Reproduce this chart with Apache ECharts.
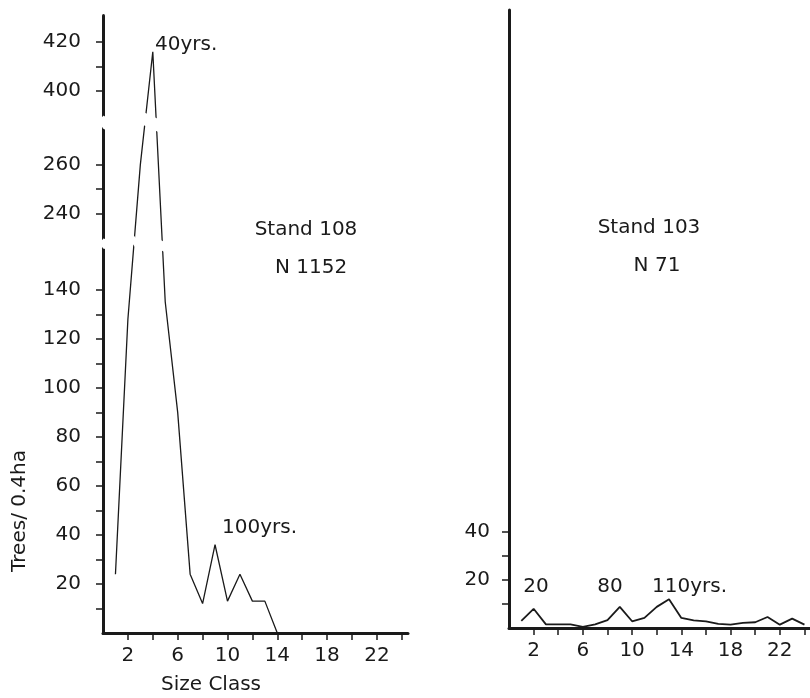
<!DOCTYPE html>
<html>
<head>
<meta charset="utf-8">
<script src="https://cdn.jsdelivr.net/npm/echarts@6/dist/echarts.min.js"></script>
<style>
  html, body { margin: 0; background: #fff; }
  #chart { width: 810px; height: 698px; }
</style>
</head>
<body>
<div id="chart"></div>
<script>
// stand 108 (left) and stand 103 (right), trees per 0.4 ha by size class
const sizeClass108 = [1, 2, 3, 4, 5, 6, 7, 8, 9, 10, 11, 12, 13, 14];
const trees108 = [24, 128, 260, 416, 135, 90, 24, 12, 36, 13, 24, 13, 13, 0];
const sizeClass103 = [1, 2, 3, 4, 5, 6, 7, 8, 9, 10, 11, 12, 13, 14, 15, 16, 17, 18, 19, 20, 21, 22, 23, 24];
const trees103 = [3, 8, 1.5, 1.5, 1.5, 0.5, 1.5, 3.3, 8.8, 2.8, 4.2, 8.8, 12, 4.2, 3.2, 2.8, 1.7, 1.4, 2.1, 2.4, 4.6, 1.4, 3.9, 1.4];

const xTicks = [2, 4, 6, 8, 10, 12, 14, 16, 18, 20, 22, 24];
const xLabels = [2, 6, 10, 14, 18, 22];
const yTicks108 = [10, 20, 30, 40, 50, 60, 70, 80, 90, 100, 110, 120, 130, 140, 240, 250, 260, 400, 410, 420];
const yLabels108 = [20, 40, 60, 80, 100, 120, 140, 240, 260, 400, 420];
const yTicks103 = [10, 20, 30, 40];
const yLabels103 = [20, 40];

const ink = "#1a1a1a";
const font = "'DejaVu Sans ExtraLight', 'DejaVu Sans', sans-serif";
const fs = 20;

const chart = echarts.init(document.getElementById("chart"), null, { renderer: "canvas" });

function xAxis(gridIndex, max) {
  return {
    gridIndex,
    type: "value",
    min: 0,
    max,
    axisLine: { lineStyle: { color: ink, width: 3 } },
    axisTick: { customValues: xTicks, length: 7, lineStyle: { color: ink, width: 1.5 } },
    axisLabel: { customValues: xLabels, color: ink, fontSize: fs, fontFamily: font, margin: 13 },
    splitLine: { show: false }
  };
}

function text(x, y, str, align) {
  return {
    type: "text",
    x,
    y,
    style: { text: str, fill: ink, fontSize: fs, fontFamily: font, align: align || "center", verticalAlign: "middle" }
  };
}

chart.setOption({
  backgroundColor: "#fff",
  animation: false,
  grid: [
    { left: 103, top: 15, width: 305, height: 618 },
    { left: 509, top: 10, width: 302, height: 618 }
  ],
  xAxis: [xAxis(0, 24.5), xAxis(1, 24.45)],
  yAxis: [
    {
      gridIndex: 0,
      type: "value",
      min: 0,
      max: 431,
      breaks: [
        { start: 157, end: 230, gap: "1.6%" },
        { start: 275, end: 390, gap: "2%" }
      ],
      breakArea: {
        show: true,
        itemStyle: { color: "#fff", borderColor: "#fff", borderWidth: 0, opacity: 1 }
      },
      axisLine: { lineStyle: { color: ink, width: 3 } },
      axisTick: { customValues: yTicks108, length: 7, lineStyle: { color: ink, width: 1.5 } },
      axisLabel: { customValues: yLabels108, color: ink, fontSize: fs, fontFamily: font, margin: 22 },
      splitLine: { show: false }
    },
    {
      gridIndex: 1,
      type: "value",
      min: 0,
      max: 257.5,
      axisLine: { lineStyle: { color: ink, width: 3 } },
      axisTick: { customValues: yTicks103, length: 7, lineStyle: { color: ink, width: 1.5 } },
      axisLabel: { customValues: yLabels103, color: ink, fontSize: fs, fontFamily: font, margin: 19 },
      splitLine: { show: false }
    }
  ],
  series: [
    {
      type: "line",
      xAxisIndex: 0,
      yAxisIndex: 0,
      data: sizeClass108.map((c, i) => [c, trees108[i]]),
      symbol: "none",
      lineStyle: { color: ink, width: 1.3 }
    },
    {
      type: "line",
      xAxisIndex: 1,
      yAxisIndex: 1,
      data: sizeClass103.map((c, i) => [c, trees103[i]]),
      symbol: "none",
      lineStyle: { color: ink, width: 1.8 }
    }
  ],
  graphic: [
    text(155, 45, "40yrs.", "left"),
    text(222, 528, "100yrs.", "left"),
    text(306, 230, "Stand 108"),
    text(311, 268, "N 1152"),
    text(649, 228, "Stand 103"),
    text(657, 266, "N 71"),
    text(536, 587, "20"),
    text(610, 587, "80"),
    text(652, 587, "110yrs.", "left"),
    text(211, 685, "Size Class"),
    Object.assign(text(20, 511, "Trees/ 0.4ha"), { rotation: Math.PI / 2 })
  ]
});
</script>
</body>
</html>
